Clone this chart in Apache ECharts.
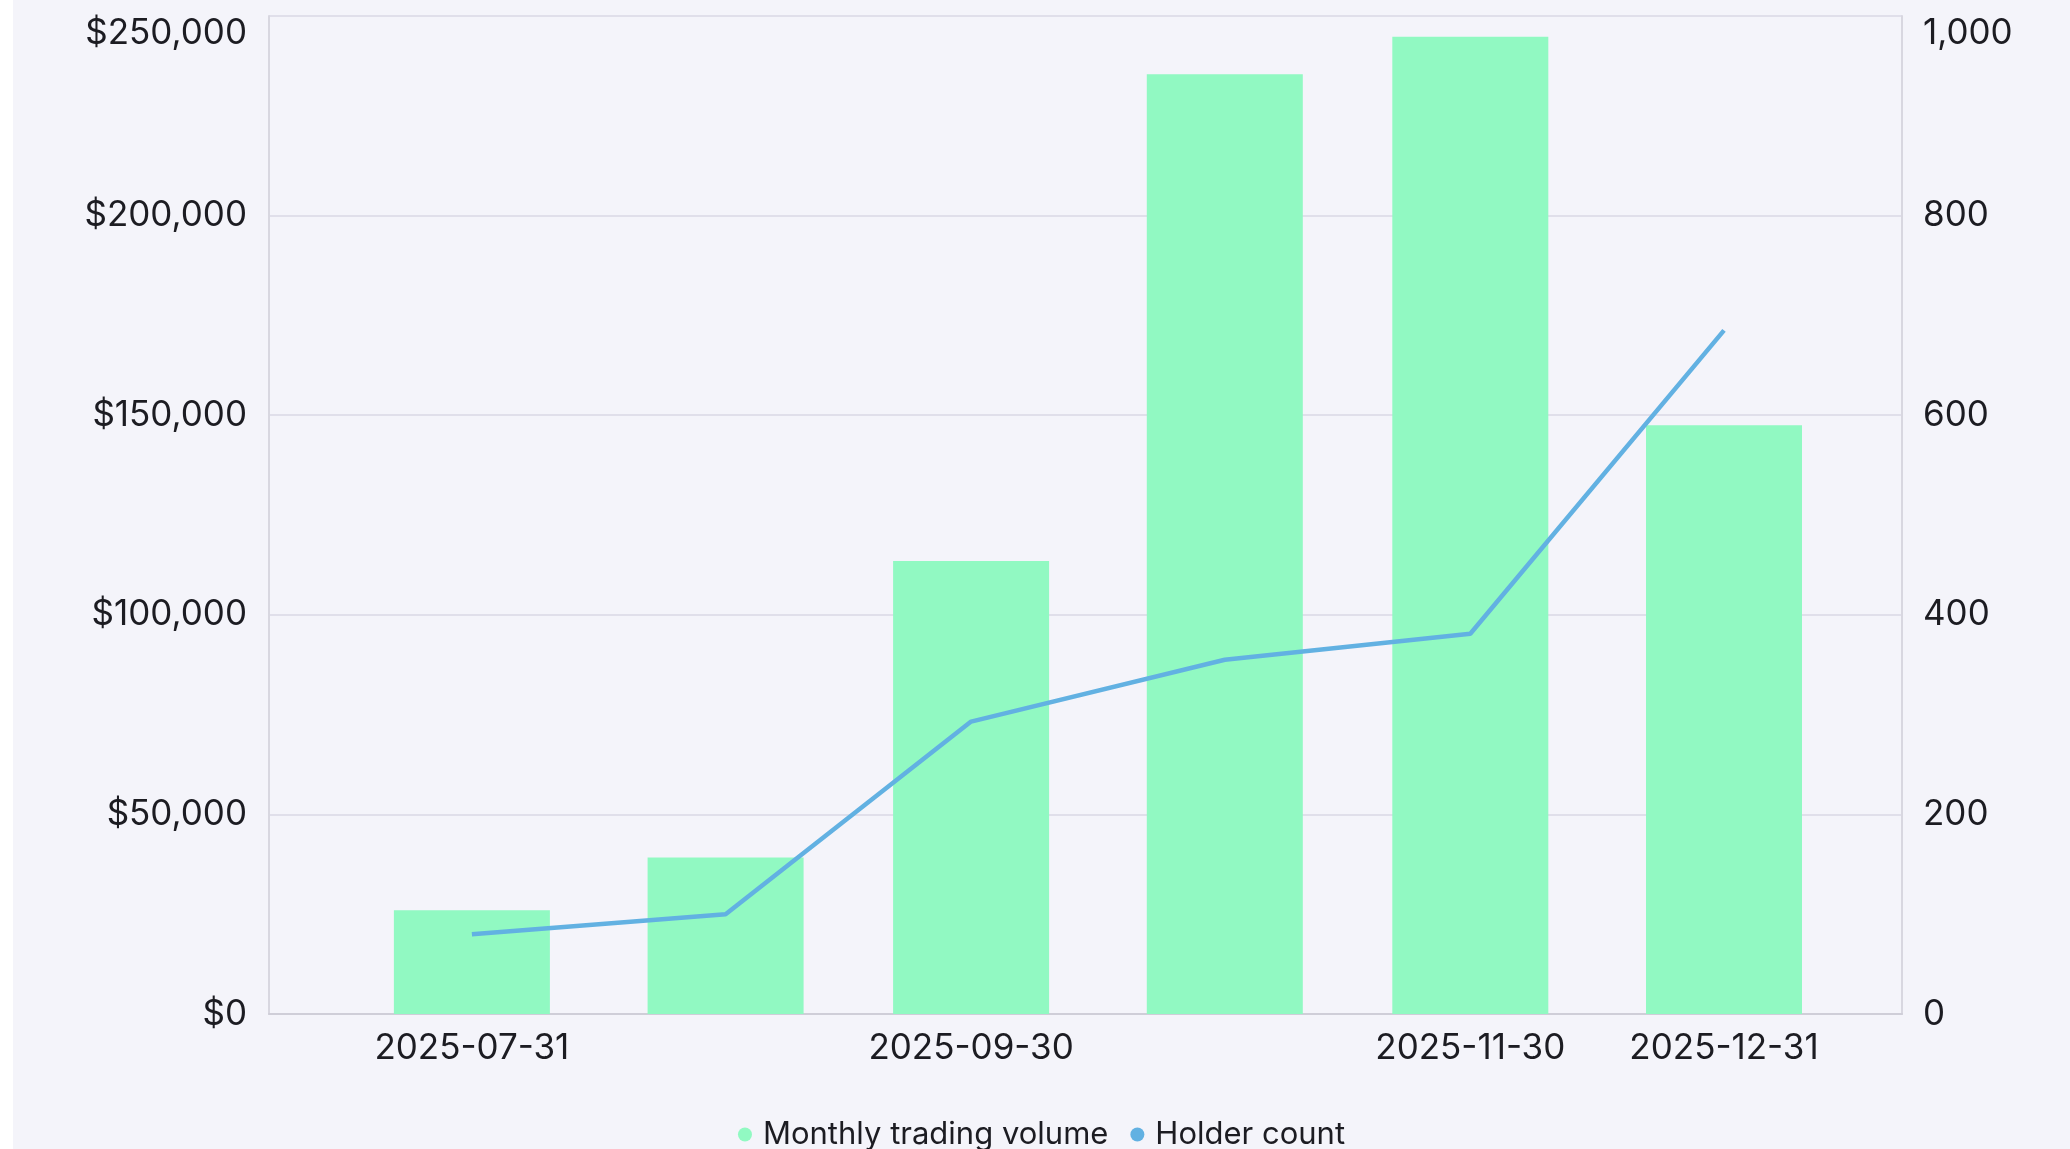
<!DOCTYPE html>
<html>
<head>
<meta charset="utf-8">
<script src="https://cdn.jsdelivr.net/npm/echarts@6/dist/echarts.min.js"></script>
<style>
  html, body { margin: 0; padding: 0; background: #ffffff; }
  #main { position: absolute; left: 13px; top: 0; width: 2057px; height: 1149px; background: #f4f4fa; }
</style>
</head>
<body>
<div id="main"></div>
<script>
var dates = ['2025-07-31', '2025-08-31', '2025-09-30', '2025-10-31', '2025-11-30', '2025-12-31'];
var volume = [26000, 39200, 113500, 235400, 244800, 147500];
var holders = [80, 100, 293, 355, 381, 685];
var xLabels = ['2025-07-31', '2025-09-30', '2025-11-30', '2025-12-31'];
var xRange = ['2025-07-06T05:00:00', '2026-01-21T18:00:00'];
var volumeTicks = [0, 50000, 100000, 150000, 200000, 250000];
var holderTicks = [0, 200, 400, 600, 800, 1000];

var myChart = echarts.init(document.getElementById('main'));
var font = 'Inter, "Noto Sans", sans-serif';

// dates -> local-time timestamps so the x axis keeps real day spacing
function ts(s) {
    return s.indexOf('T') > 0 ? new Date(s).getTime() : new Date(s + 'T00:00:00').getTime();
}
function zip(a, b) {
    var out = [];
    for (var i = 0; i < a.length; i++) out.push([ts(a[i]), b[i]]);
    return out;
}

var option = {
    backgroundColor: '#f4f4fa',
    textStyle: { fontFamily: font },
    legend: {
        top: 1114,
        left: 'center',
        icon: 'circle',
        itemWidth: 14,
        itemHeight: 14,
        itemGap: 22,
        textStyle: { fontSize: 31, color: '#1c1c22', fontFamily: font, padding: [0, 0, 0, 6] },
        data: ['Monthly trading volume', 'Holder count']
    },
    grid: { left: 256, right: 168, top: 16, bottom: 135 },
    xAxis: {
        type: 'value',
        min: ts(xRange[0]),
        max: ts(xRange[1]),
        axisLine: { lineStyle: { color: '#cfced8', width: 2 } },
        axisTick: { show: false },
        splitLine: { show: false },
        axisLabel: {
            customValues: xLabels.map(ts),
            margin: 17,
            fontSize: 35,
            color: '#1c1c22',
            fontFamily: font,
            formatter: function (v) { return echarts.time.format(v, '{yyyy}-{MM}-{dd}', false); }
        }
    },
    yAxis: [{
        type: 'value',
        min: volumeTicks[0],
        max: volumeTicks[volumeTicks.length - 1],
        interval: volumeTicks[1] - volumeTicks[0],
        axisLine: { show: true, lineStyle: { color: '#d8d7e0', width: 2 } },
        axisTick: { show: false },
        splitLine: { lineStyle: { color: '#e0dfea', width: 2 } },
        axisLabel: {
            margin: 22,
            fontSize: 35,
            color: '#1c1c22',
            fontFamily: font,
            verticalAlignMaxLabel: 'top',
            formatter: function (v) { return '$' + v.toLocaleString('en-US'); }
        }
    }, {
        type: 'value',
        min: holderTicks[0],
        max: holderTicks[holderTicks.length - 1],
        interval: holderTicks[1] - holderTicks[0],
        position: 'right',
        axisLine: { show: true, lineStyle: { color: '#d8d7e0', width: 2 } },
        axisTick: { show: false },
        splitLine: { show: false },
        axisLabel: {
            margin: 21,
            fontSize: 35,
            color: '#1c1c22',
            fontFamily: font,
            verticalAlignMaxLabel: 'top',
            formatter: function (v) { return v.toLocaleString('en-US'); }
        }
    }],
    series: [{
        name: 'Monthly trading volume',
        type: 'bar',
        yAxisIndex: 0,
        barWidth: 156,
        itemStyle: { color: '#91f9c2' },
        data: zip(dates, volume)
    }, {
        name: 'Holder count',
        type: 'line',
        yAxisIndex: 1,
        showSymbol: false,
        symbol: 'circle',
        lineStyle: { color: '#62b1e2', width: 4.5 },
        itemStyle: { color: '#62b1e2' },
        data: zip(dates, holders)
    }]
};
myChart.setOption(option);
</script>
</body>
</html>
